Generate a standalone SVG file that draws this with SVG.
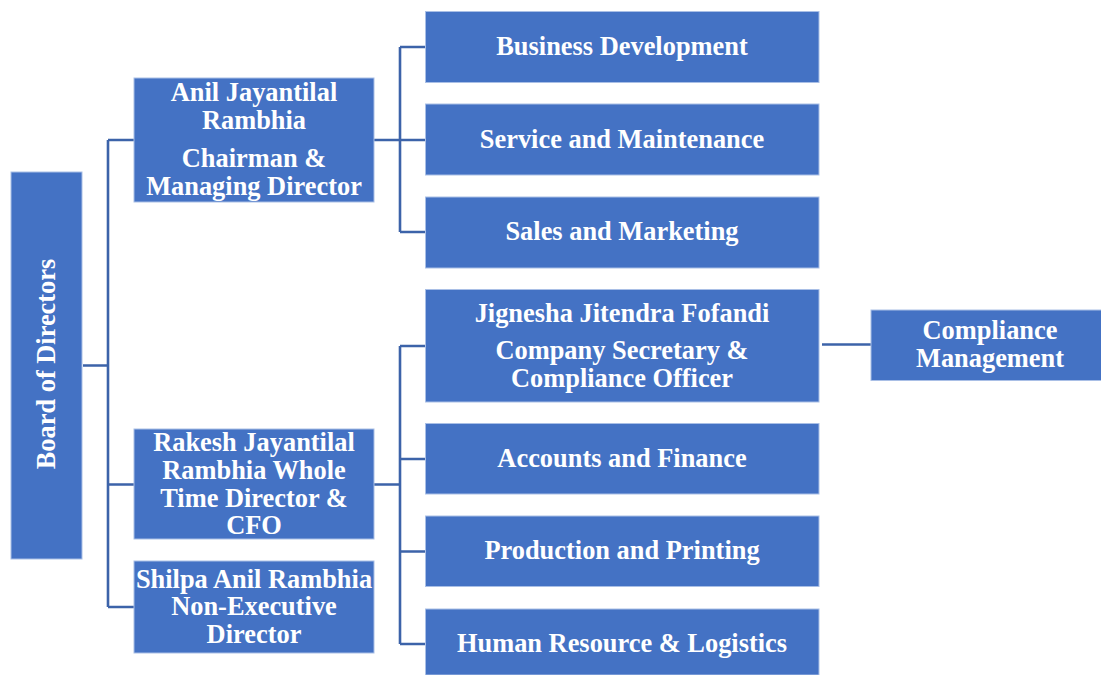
<svg xmlns="http://www.w3.org/2000/svg" width="1101" height="675" viewBox="0 0 1101 675">
<style>
.box{fill:#4472C4;stroke:#A9BFE6;stroke-width:1}
.t{font-family:"Liberation Serif","Times New Roman",serif;font-weight:bold;font-size:26.4px;fill:#FFFFFF;text-anchor:middle}
.c{fill:none;stroke:#3C63A9;stroke-width:2.6}
</style>
<rect width="1101" height="675" fill="#FFFFFF"/>
<g id="connectors">
<path class="c" d="M83 365.5H108M108 140V607M108 140H134M108 484.5H134M108 607H134"/>
<path class="c" d="M374 140H400M400 47V232M400 47H426M400 140H426M400 232H426"/>
<path class="c" d="M374 484.5H400M400 346V644M400 346H426M400 459H426M400 551.5H426M400 644H426"/>
<path class="c" d="M822 344.5H871"/>
</g>
<g id="board">
<rect class="box" x="11" y="172" width="71" height="387"/>
<text class="t" transform="translate(55 364) rotate(-90)">Board of Directors</text>
</g>
<g id="anil">
<rect class="box" x="134" y="78" width="240" height="124"/>
<text class="t" x="254" y="100.7">Anil Jayantilal</text>
<text class="t" x="254" y="129">Rambhia</text>
<text class="t" x="254" y="166.7">Chairman &amp;</text>
<text class="t" x="254" y="195">Managing Director</text>
</g>
<g id="rakesh">
<rect class="box" x="134" y="429" width="240" height="110"/>
<text class="t" x="254" y="450.7">Rakesh Jayantilal</text>
<text class="t" x="254" y="479">Rambhia Whole</text>
<text class="t" x="254" y="506.7">Time Director &amp;</text>
<text class="t" x="254" y="534">CFO</text>
</g>
<g id="shilpa">
<rect class="box" x="134" y="561" width="240" height="92"/>
<text class="t" x="254" y="587.7">Shilpa Anil Rambhia</text>
<text class="t" x="254" y="615">Non-Executive</text>
<text class="t" x="254" y="642.7">Director</text>
</g>
<g id="business-development">
<rect class="box" x="425.5" y="11.5" width="393.5" height="71"/>
<text class="t" x="622" y="55">Business Development</text>
</g>
<g id="service-maintenance">
<rect class="box" x="425.5" y="104" width="393.5" height="71"/>
<text class="t" x="622" y="147.7">Service and Maintenance</text>
</g>
<g id="sales-marketing">
<rect class="box" x="425.5" y="197" width="393.5" height="71"/>
<text class="t" x="622" y="240">Sales and Marketing</text>
</g>
<g id="jignesha">
<rect class="box" x="425.5" y="289.5" width="393.5" height="112.5"/>
<text class="t" x="622" y="321.7">Jignesha Jitendra Fofandi</text>
<text class="t" x="622" y="359.3">Company Secretary &amp;</text>
<text class="t" x="622" y="386.7">Compliance Officer</text>
</g>
<g id="accounts-finance">
<rect class="box" x="425.5" y="423.5" width="393.5" height="70.5"/>
<text class="t" x="622" y="467">Accounts and Finance</text>
</g>
<g id="production-printing">
<rect class="box" x="425.5" y="516" width="393.5" height="70.5"/>
<text class="t" x="622" y="559.3">Production and Printing</text>
</g>
<g id="hr-logistics">
<rect class="box" x="425.5" y="609" width="393.5" height="66"/>
<text class="t" x="622" y="652.3">Human Resource &amp; Logistics</text>
</g>
<g id="compliance-management">
<rect class="box" x="871" y="310" width="231" height="70.5"/>
<text class="t" x="990" y="339.3">Compliance</text>
<text class="t" x="990" y="367.3">Management</text>
</g>
</svg>
